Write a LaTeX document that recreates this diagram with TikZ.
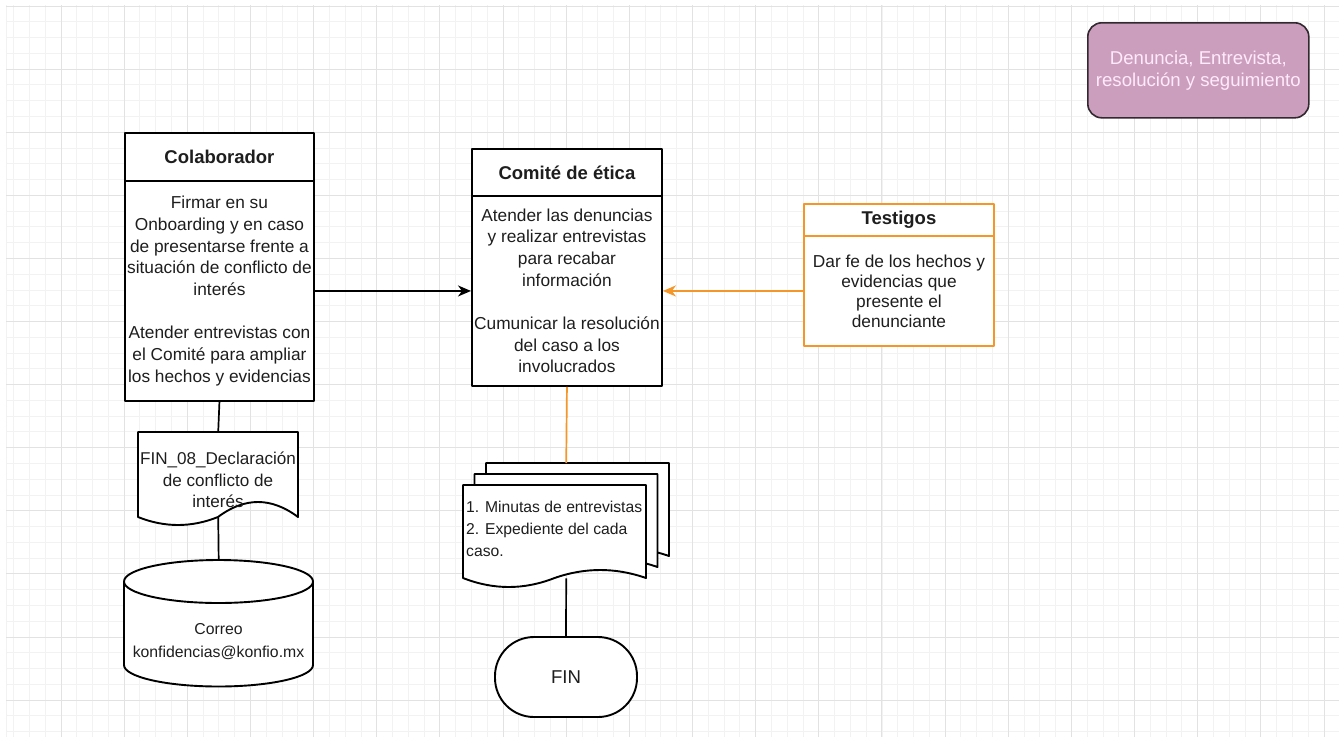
\documentclass[tikz,border=0pt]{standalone}
\usepackage{fontspec}
\setmainfont{Liberation Sans}
\usetikzlibrary{arrows.meta}
\definecolor{gridminor}{RGB}{242,242,242}
\definecolor{gridmajor}{RGB}{226,226,226}
\definecolor{orangeln}{RGB}{245,150,40}
\definecolor{titlefill}{RGB}{204,158,190}
\definecolor{titletext}{RGB}{255,234,250}
\definecolor{titledraw}{RGB}{50,40,48}
\definecolor{txt}{RGB}{30,30,30}
\newcommand{\drawdoc}[7]{%
  \draw[#1] (#2,#3+#5) -- (#2,#3) -- (#2+#4,#3) -- (#2+#4,#3+#5)
   .. controls ({#2+0.8333*#4},{#3+#5-1.3333*#6}) and ({#2+0.6667*#4},{#3+#5-1.3333*#6}) .. ({#2+0.5*#4},{#3+#5})
   .. controls ({#2+0.3333*#4},{#3+#5+1.3333*#7}) and ({#2+0.1667*#4},{#3+#5+1.3333*#7}) .. (#2,#3+#5) -- cycle;}
\begin{document}
\begin{tikzpicture}[x=1pt,y=-1pt, line join=round,
  shapeline/.style={draw=black, line width=1.9pt},
  box/.style={shapeline, fill=white, rectangle, inner sep=0pt, anchor=north west, text=txt, align=center},
  obox/.style={rectangle, inner sep=0pt, anchor=north west, text=txt, align=center, fill=white, draw=orangeln, line width=1.9pt},
  headfont/.style={font=\bfseries\fontsize{18.5}{22}\selectfont},
  bodyfont/.style={font=\fontsize{17.3}{21.7}\selectfont},
  smallfont/.style={font=\fontsize{15.7}{22}\selectfont},
  ghost/.style={rectangle, inner sep=0pt, anchor=north west},
  conn/.style={line width=1.7pt, draw=black},
  oconn/.style={line width=1.7pt, draw=orangeln},
  tip/.style={-{Stealth[length=13pt,width=11pt,inset=4pt]}},
  docstyle/.style={shapeline, fill=white}
]
\useasboundingbox (0,0) rectangle (1339,740);
\fill[white] (0,0) rectangle (1339,740);
% grid
\begin{scope}
\clip (6,5) rectangle (1339,737);
\foreach \i in {0,...,85} { \draw[gridminor, line width=0.9pt] ({-2.15+15.7875*\i},5) -- ({-2.15+15.7875*\i},737); }
\foreach \j in {0,...,46} { \draw[gridminor, line width=0.9pt] (6,{6+15.775*\j}) -- (1339,{6+15.775*\j}); }
\draw[gridminor, line width=0.9pt] (6.5,5) -- (6.5,737);
\foreach \i in {0,...,21} { \draw[gridmajor, line width=1pt] ({-2.15+63.15*\i},5) -- ({-2.15+63.15*\i},737); }
\foreach \j in {0,...,11} { \draw[gridmajor, line width=1pt] (6,{6+63.1*\j}) -- (1339,{6+63.1*\j}); }
\end{scope}

% title
\node[draw=titledraw, fill=titlefill, rounded corners=14pt, line width=1.6pt, minimum width=221pt, minimum height=95pt, anchor=north west, inner sep=0pt, text=titletext, align=center, font=\fontsize{18.6}{22}\selectfont] (title) at (1087,22) {Denuncia, Entrevista,\\resolución y seguimiento};

% Colaborador
\node[box, headfont, minimum width=189pt, minimum height=48pt] (colabH) at (124,132) {Colaborador};
\node[box, bodyfont, minimum width=189pt, minimum height=220pt] (colabB) at (124,180) {Firmar en su\\Onboarding y en caso\\de presentarse frente a\\situación de conflicto de\\interés\\[21.7pt]Atender entrevistas con\\el Comité para ampliar\\los hechos y evidencias};

% Comite
\node[box, headfont, minimum width=190pt, minimum height=47pt] (comH) at (471,148) {Comité de ética};
\node[box, bodyfont, minimum width=190pt, minimum height=190pt] (comB) at (471,195) {Atender las denuncias\\y realizar entrevistas\\para recabar\\información\\[21.5pt]Cumunicar la resolución\\del caso a los\\involucrados};

% Testigos
\node[obox, headfont, minimum width=190pt, minimum height=32pt] (testH) at (803,203) {Testigos};
\node[obox, font=\fontsize{17.3}{20}\selectfont, minimum width=190pt, minimum height=110pt] (testB) at (803,235) {Dar fe de los hechos y\\evidencias que\\presente el\\denunciante};

% document FIN_08
\drawdoc{docstyle}{138}{432}{160}{85}{15}{8}
\node[ghost, minimum width=160pt, minimum height=85pt] (doc) at (138,432) {};
\node[align=center, text=txt, inner sep=0pt, font=\fontsize{17.1}{21.5}\selectfont] (doctxt) at (218,480) {FIN\_08\_Declaración\\de conflicto de\\interés};

% cylinder
\draw[shapeline, fill=white] (124,581.5) -- (124,665) arc[start angle=180, end angle=360, x radius=94.5pt, y radius=21.5pt] -- (313,581.5) arc[start angle=0, end angle=180, x radius=94.5pt, y radius=21.5pt] -- cycle;
\draw[shapeline] (124,581.5) arc[start angle=180, end angle=360, x radius=94.5pt, y radius=21.5pt];
\node[ghost, minimum width=189pt, minimum height=127pt] (cyl) at (124,560) {};
\node[align=center, text=txt, inner sep=0pt, font=\fontsize{15.8}{23}\selectfont] (cyltxt) at (218.5,642) {Correo\\konfidencias@konfio.mx};

% multi document
\drawdoc{docstyle}{486}{463}{183}{93}{8}{9}
\drawdoc{docstyle}{474.5}{474}{183}{93}{8}{9}
\drawdoc{docstyle}{463}{485}{183}{93}{8}{9}
\node[ghost, minimum width=206pt, minimum height=115pt] (mdoc) at (463,463) {};
\node[smallfont, align=left, anchor=west, text=txt, inner sep=0pt] (mdtxt) at (466,529) {1. Minutas de entrevistas\\2. Expediente del cada\\caso.};

% FIN
\node[shapeline, fill=white, rounded corners=39pt, minimum width=142pt, minimum height=80pt, inner sep=0pt, text=txt, font=\fontsize{18.6}{22}\selectfont] (fin) at (566,677) {FIN};

% connectors
\draw[conn, tip] (colabB.east) -- (comB.west);
\draw[oconn, tip] (testB.west) -- (comB.east);
\draw[conn] (colabB.south) -- (doc.north);
\draw[conn] (doc.south) -- (cyl.north);
\draw[oconn] (comB.south) -- (mdoc.north);
\draw[conn] (mdoc.south) -- (fin.north);
\end{tikzpicture}
\end{document}
